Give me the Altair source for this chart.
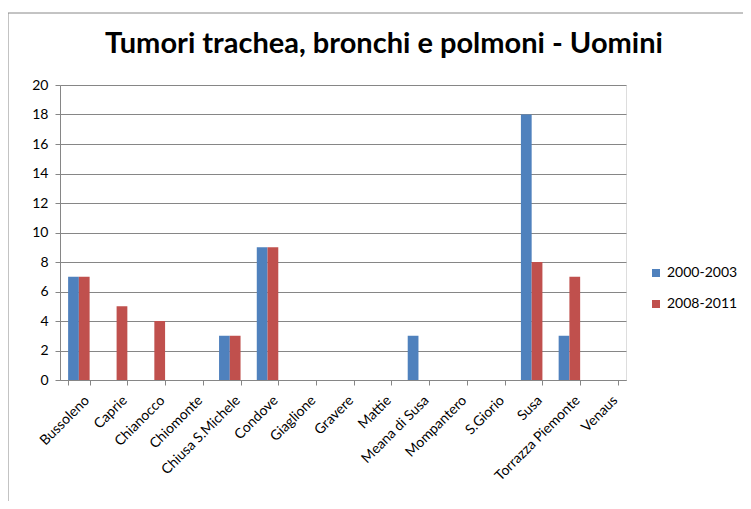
import altair as alt
import pandas as pd

comuni = ["Bussoleno", "Caprie", "Chianocco", "Chiomonte", "Chiusa S.Michele",
          "Condove", "Giaglione", "Gravere", "Mattie", "Meana di Susa",
          "Mompantero", "S.Giorio", "Susa", "Torrazza Piemonte", "Venaus"]
serie = ["2000-2003", "2008-2011"]
v2000_2003 = [7, 0, 0, 0, 3, 9, 0, 0, 0, 3, 0, 0, 18, 3, 0]
v2008_2011 = [7, 5, 4, 0, 3, 9, 0, 0, 0, 0, 0, 0, 8, 7, 0]
colori = ["#4F81BD", "#C0504D"]
titolo = "Tumori trachea, bronchi e polmoni - Uomini"

rows = []
for c, a, b in zip(comuni, v2000_2003, v2008_2011):
    rows.append({"Comune": c, "Periodo": serie[0], "Valore": a})
    rows.append({"Comune": c, "Periodo": serie[1], "Valore": b})
df = pd.DataFrame(rows)

FONT = "Lato"

bars = alt.Chart(df).mark_bar().encode(
    x=alt.X("Comune:N", sort=comuni, title=None,
            scale=alt.Scale(paddingInner=0.43, paddingOuter=0.215),
            axis=alt.Axis(labelAngle=-45, tickBand="extent", tickSize=5,
                          domainColor="#868686", tickColor="#868686",
                          labelFont=FONT, labelFontSize=14, labelColor="#000000",
                          labelPadding=8, labelOffset=3, grid=False)),
    xOffset=alt.XOffset("Periodo:N", sort=serie),
    y=alt.Y("Valore:Q", title=None,
            scale=alt.Scale(domain=[0, 20]),
            axis=alt.Axis(values=list(range(0, 21, 2)), tickSize=5,
                          domainColor="#868686", tickColor="#868686",
                          gridColor="#868686", gridWidth=1,
                          labelFont=FONT, labelFontSize=14, labelColor="#000000",
                          labelPadding=7)),
    color=alt.Color("Periodo:N", sort=serie,
                    scale=alt.Scale(domain=serie, range=colori),
                    legend=alt.Legend(title=None, orient="none",
                                      legendX=589, legendY=181,
                                      symbolType="square", symbolSize=64,
                                      symbolStrokeWidth=0,
                                      labelFont=FONT, labelFontSize=14,
                                      labelOffset=4,
                                      labelColor="#000000", rowPadding=17)),
)

one = pd.DataFrame({"k": [0]})
frame_left = alt.Chart(one).mark_rule(color="#888888", strokeWidth=1).encode(
    x=alt.value(-52), y=alt.value(-72), y2=alt.value(416),
)
frame_top = alt.Chart(one).mark_rule(color="#888888", strokeWidth=1).encode(
    x=alt.value(-52), x2=alt.value(683), y=alt.value(-72),
)
title_text = alt.Chart(one).mark_text(
    font=FONT, fontSize=29, fontWeight="bold", color="#000000",
    align="center", baseline="alphabetic",
).encode(x=alt.value(324), y=alt.value(-32), text=alt.value(titolo))

chart = alt.layer(frame_left, frame_top, title_text, bars).properties(
    width=566, height=295,
    padding={"left": 52, "top": 77, "right": 117, "bottom": 121},
    autosize=alt.AutoSizeParams(type="none"),
).configure_view(stroke=None).configure(background="white")

chart.save("out.html", embed_options={"renderer": "svg", "actions": False})
